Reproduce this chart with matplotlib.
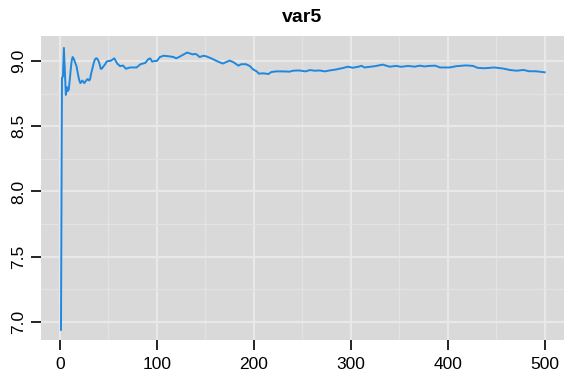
import matplotlib
matplotlib.use("Agg")
import matplotlib.pyplot as plt
from matplotlib.ticker import MultipleLocator

plt.rcParams['font.family'] = ['Liberation Sans', 'DejaVu Sans']

title = "var5"
iterations = [1, 2, 3, 4, 5, 6, 7, 8, 9, 10, 11, 12, 13, 14, 15, 16, 17, 18, 19, 20,
              21, 22, 23, 24, 25, 26, 27, 28, 29, 30, 31, 32, 33, 34, 35, 36, 37, 38, 39, 40,
              41, 42, 43, 44, 45, 46, 47, 48, 50, 52, 56, 59, 62, 65, 68, 72, 76, 79, 83, 88,
              91, 93, 95, 98, 100, 103, 107, 113, 117, 120, 124, 131, 133, 137, 139, 141, 144,
              148, 151, 156, 163, 168, 171, 175, 179, 184, 187, 192, 196, 199, 203, 205, 210,
              215, 218, 223, 230, 237, 240, 247, 253, 258, 263, 268, 273, 278, 285, 292, 297,
              302, 308, 311, 314, 320, 325, 330, 333, 340, 347, 352, 359, 366, 371, 376, 381,
              387, 392, 402, 409, 419, 426, 431, 438, 448, 457, 464, 471, 478, 484, 491, 500]
running_mean = [6.94, 8.87, 8.88, 9.10, 8.92, 8.74, 8.80, 8.77, 8.78, 8.85, 8.93, 9.00, 9.03,
                9.02, 9.00, 8.98, 8.96, 8.92, 8.88, 8.85, 8.83, 8.84, 8.85, 8.84, 8.83, 8.84,
                8.85, 8.86, 8.86, 8.85, 8.86, 8.90, 8.93, 8.96, 8.99, 9.01, 9.02, 9.02, 9.01,
                8.995, 8.97, 8.94, 8.94, 8.95, 8.96, 8.97, 8.98, 8.995, 9.00, 9.00, 9.02, 8.98,
                8.96, 8.965, 8.94, 8.95, 8.95, 8.95, 8.975, 8.985, 9.013, 9.02, 8.995, 9.00,
                9.00, 9.03, 9.04, 9.035, 9.03, 9.02, 9.035, 9.064, 9.06, 9.05, 9.054, 9.05,
                9.03, 9.04, 9.035, 9.02, 8.995, 8.98, 8.99, 9.003, 8.99, 8.964, 8.975, 8.975,
                8.96, 8.936, 8.92, 8.903, 8.905, 8.90, 8.915, 8.92, 8.92, 8.918, 8.925, 8.927,
                8.92, 8.93, 8.925, 8.927, 8.92, 8.927, 8.935, 8.946, 8.956, 8.948, 8.956,
                8.963, 8.95, 8.955, 8.96, 8.967, 8.972, 8.956, 8.962, 8.955, 8.962, 8.956,
                8.964, 8.958, 8.962, 8.964, 8.95, 8.95, 8.96, 8.966, 8.962, 8.947, 8.944,
                8.95, 8.942, 8.931, 8.925, 8.931, 8.921, 8.921, 8.913]
x_ticks = [0, 100, 200, 300, 400, 500]
y_ticks = [7.0, 7.5, 8.0, 8.5, 9.0]

fig = plt.figure(figsize=(5.65, 3.75), dpi=100)
ax = fig.add_axes([0.0726, 0.0933, 0.925, 0.811])
ax.set_facecolor('#D9D9D9')
ax.plot(iterations, running_mean, color='#1E88E0', linewidth=1.4, zorder=3)

ax.set_xlim(-19.6, 519.6)
ax.set_ylim(6.862, 9.192)
ax.set_xticks(x_ticks)
ax.set_yticks(y_ticks)
ax.set_yticklabels([f"{v:.1f}" for v in y_ticks], rotation=90, va='center')
ax.xaxis.set_minor_locator(MultipleLocator(50))
ax.yaxis.set_minor_locator(MultipleLocator(0.25))
ax.grid(which='major', color='#E8E8E8', linewidth=1.6, zorder=0)
ax.grid(which='minor', color='#E3E3E3', linewidth=1.0, zorder=0)
ax.set_axisbelow(True)
for s in ax.spines.values():
    s.set_visible(False)
ax.tick_params(which='major', length=7.5, width=1.2, color='black', labelsize=12.5)
ax.tick_params(axis='x', pad=5)
ax.tick_params(axis='y', pad=3)
ax.tick_params(which='minor', length=0)

fig.text(0.0726 + 0.925 / 2, 0.952, title, ha='center', va='center',
         fontsize=14, fontweight='bold')

fig.savefig('out.png', dpi=100)
